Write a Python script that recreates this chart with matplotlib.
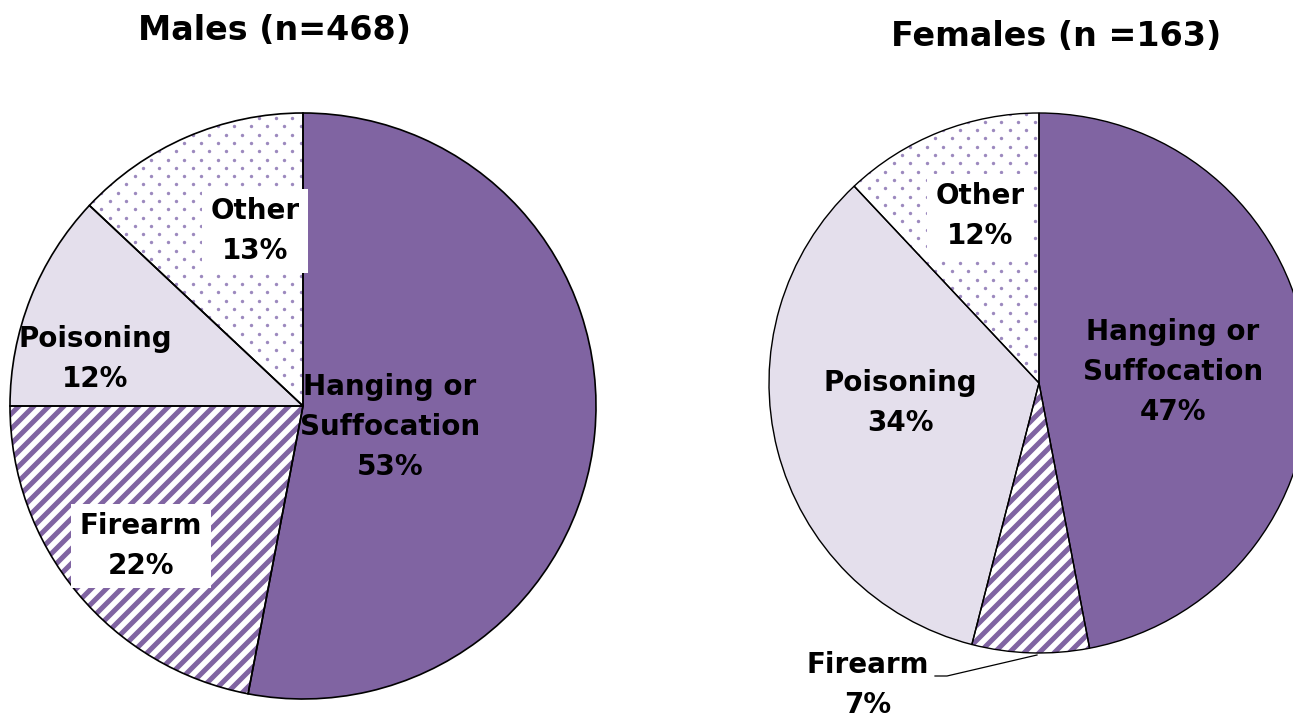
import matplotlib
matplotlib.use("Agg")
import matplotlib.pyplot as plt
from matplotlib.collections import LineCollection
import numpy as np

# data
categories = ["Hanging or\nSuffocation", "Firearm", "Poisoning", "Other"]
males = [53, 22, 12, 13]
females = [47, 7, 34, 12]
titles = ["Males (n=468)", "Females (n =163)"]

PURPLE = "#8064A2"
LAVENDER = "#E4DFEC"
DOTS = "#9C89BE"

W, H = 1293, 720
fig = plt.figure(figsize=(W / 100, H / 100), dpi=100)
ax = fig.add_axes([0, 0, 1, 1])
plt.rcParams["font.family"] = ["DejaVu Sans"]


def stripes(wedge, cx, cy, r):
    # "/" stripes, 15px apart horizontally, clipped to the wedge
    segs = []
    for k in np.arange(-2 * r, 2 * r, 15.0):
        x0, x1 = cx - r - 5, cx + r + 5
        segs.append([(x0, cy + (x0 - cx) + k), (x1, cy + (x1 - cx) + k)])
    lc = LineCollection(segs, colors=PURPLE, linewidths=3.6, zorder=2)
    ax.add_collection(lc)
    lc.set_clip_path(wedge)


def dots(wedge, cx, cy, r):
    xs, ys = [], []
    for i, y in enumerate(np.arange(cy - r, cy + r, 8.3)):
        off = 8.3 if i % 2 else 0.0
        for x in np.arange(cx - r + off, cx + r, 16.6):
            xs.append(x); ys.append(y)
    sc = ax.scatter(xs, ys, s=6, color=DOTS, linewidths=0, zorder=2)
    sc.set_clip_path(wedge)


def draw_pie(vals, cx, cy, r, lw):
    c = (cx, H - cy)
    fills = [PURPLE, "white", LAVENDER, "white"]
    wedges, _ = ax.pie(vals, center=c, radius=r, startangle=90, counterclock=False,
                       colors=fills, frame=True, wedgeprops=dict(linewidth=0))
    stripes(wedges[1], c[0], c[1], r)
    dots(wedges[3], c[0], c[1], r)
    # black outlines on top
    outl, _ = ax.pie(vals, center=c, radius=r, startangle=90, counterclock=False,
                     frame=True, wedgeprops=dict(fill=False, edgecolor="black", linewidth=lw))
    for w in outl:
        w.set_zorder(3)
    return wedges


def label(x, y, s, box=False, size=20):
    bb = dict(boxstyle="square,pad=0.3", fc="white", ec="none") if box else None
    ax.text(x, H - y, s, ha="center", va="center", fontsize=size, fontweight="bold",
            linespacing=1.55, color="black", bbox=bb, zorder=5)


draw_pie(males, 303, 406, 293, 1.2)
draw_pie(females, 1039, 383, 270, 1.0)

ax.set_xlim(0, W)
ax.set_ylim(0, H)
ax.set_aspect("auto")
ax.axis("off")

# male labels
label(390, 427, f"{categories[0]}\n{males[0]}%")
label(141, 546, f"{categories[1]}\n{males[1]}%", box=True)
label(95, 359, f"{categories[2]}\n{males[2]}%")
label(255, 231, f"{categories[3]}\n{males[3]}%", box=True)

# female labels
label(1173, 372, f"{categories[0]}\n{females[0]}%")
label(900, 403, f"{categories[2]}\n{females[2]}%")
label(980, 216, f"{categories[3]}\n{females[3]}%", box=True)
label(868, 685, f"{categories[1]}\n{females[1]}%")
ax.plot([935, 947, 1037], [H - 676, H - 676, H - 655], color="black", lw=0.9, zorder=4)

ax.text(274, H - 30, titles[0], ha="center", va="center", fontsize=24, fontweight="bold")
ax.text(1056, H - 37, titles[1], ha="center", va="center", fontsize=24, fontweight="bold")

fig.savefig("out.png", dpi=100, facecolor="white")
